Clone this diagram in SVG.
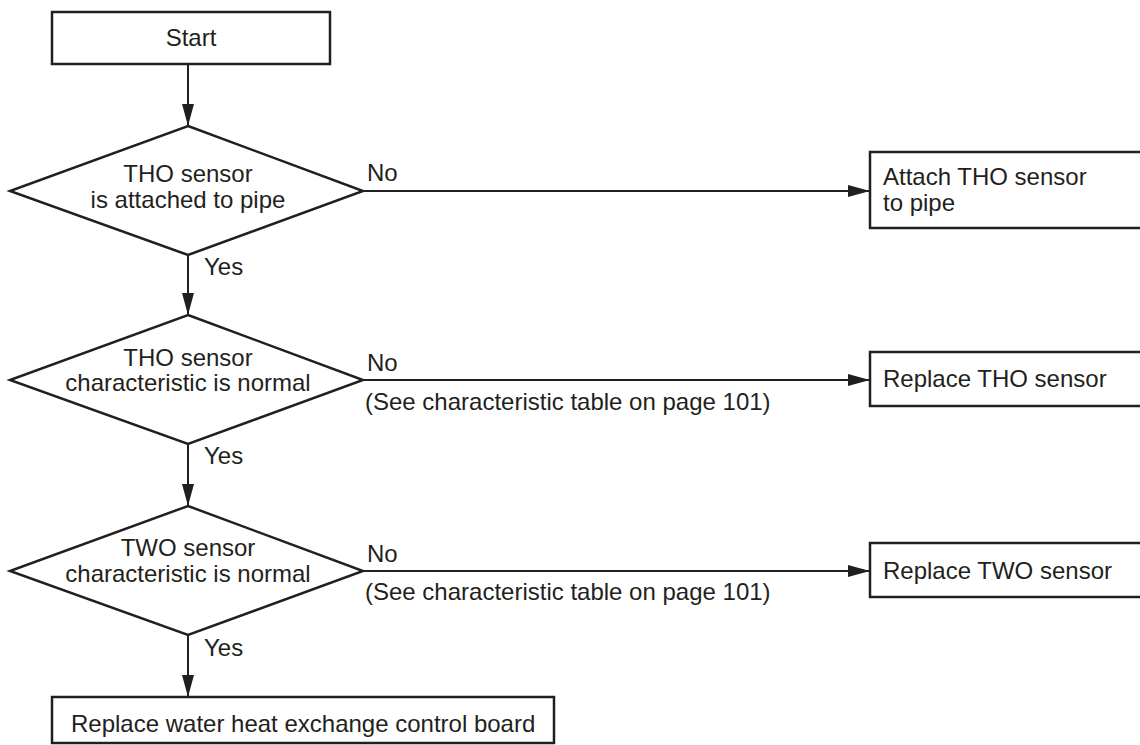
<svg xmlns="http://www.w3.org/2000/svg" width="1140" height="745" viewBox="0 0 1140 745">
  <style>
    .shape { fill: #ffffff; stroke: #231f20; stroke-width: 2.5; }
    .conn { fill: none; stroke: #231f20; stroke-width: 2; }
    text { font-family: "Liberation Sans", Arial, Helvetica, sans-serif; font-size: 24px; fill: #231f20; }
    .c { text-anchor: middle; }
  </style>
  <defs>
    <marker id="arr" markerUnits="userSpaceOnUse" markerWidth="22" markerHeight="12" refX="22" refY="6" orient="auto">
      <path d="M0,0 L22,6 L0,12 Z" fill="#231f20"/>
    </marker>
  </defs>

  <rect width="1140" height="745" fill="#ffffff"/>

  <g id="connectors">
    <line class="conn" x1="188" y1="64" x2="188" y2="126" marker-end="url(#arr)"/>
    <line class="conn" x1="188" y1="255" x2="188" y2="315" marker-end="url(#arr)"/>
    <line class="conn" x1="188" y1="444" x2="188" y2="506" marker-end="url(#arr)"/>
    <line class="conn" x1="188" y1="635" x2="188" y2="697" marker-end="url(#arr)"/>
    <line class="conn" x1="363" y1="191" x2="870" y2="191" marker-end="url(#arr)"/>
    <line class="conn" x1="363" y1="380" x2="870" y2="380" marker-end="url(#arr)"/>
    <line class="conn" x1="363" y1="571" x2="870" y2="571" marker-end="url(#arr)"/>
    <text x="204" y="275">Yes</text>
    <text x="204" y="464">Yes</text>
    <text x="204" y="656">Yes</text>
    <text x="367" y="181">No</text>
    <text x="367" y="371">No</text>
    <text x="365" y="410">(See characteristic table on page 101)</text>
    <text x="367" y="562">No</text>
    <text x="365" y="600">(See characteristic table on page 101)</text>
  </g>

  <g id="start">
    <rect class="shape" x="52" y="12" width="278" height="52"/>
    <text class="c" x="191" y="46">Start</text>
  </g>

  <g id="d1">
    <polygon class="shape" points="188,126 363,191 188,255 10,191"/>
    <text class="c" x="188" y="182">THO sensor</text>
    <text class="c" x="188" y="208">is attached to pipe</text>
  </g>

  <g id="attach">
    <rect class="shape" x="870" y="152" width="280" height="76"/>
    <text x="883" y="185">Attach THO sensor</text>
    <text x="883" y="211">to pipe</text>
  </g>

  <g id="d2">
    <polygon class="shape" points="188,315 363,380 188,444 10,380"/>
    <text class="c" x="188" y="366">THO sensor</text>
    <text class="c" x="188" y="391">characteristic is normal</text>
  </g>

  <g id="replaceTHO">
    <rect class="shape" x="870" y="352" width="280" height="54"/>
    <text x="883" y="387">Replace THO sensor</text>
  </g>

  <g id="d3">
    <polygon class="shape" points="188,506 363,571 188,635 10,571"/>
    <text class="c" x="188" y="556">TWO sensor</text>
    <text class="c" x="188" y="582">characteristic is normal</text>
  </g>

  <g id="replaceTWO">
    <rect class="shape" x="870" y="543" width="280" height="54"/>
    <text x="883" y="579">Replace TWO sensor</text>
  </g>

  <g id="replaceBoard">
    <rect class="shape" x="52" y="697" width="502" height="46"/>
    <text x="71" y="732">Replace water heat exchange control board</text>
  </g>
</svg>
